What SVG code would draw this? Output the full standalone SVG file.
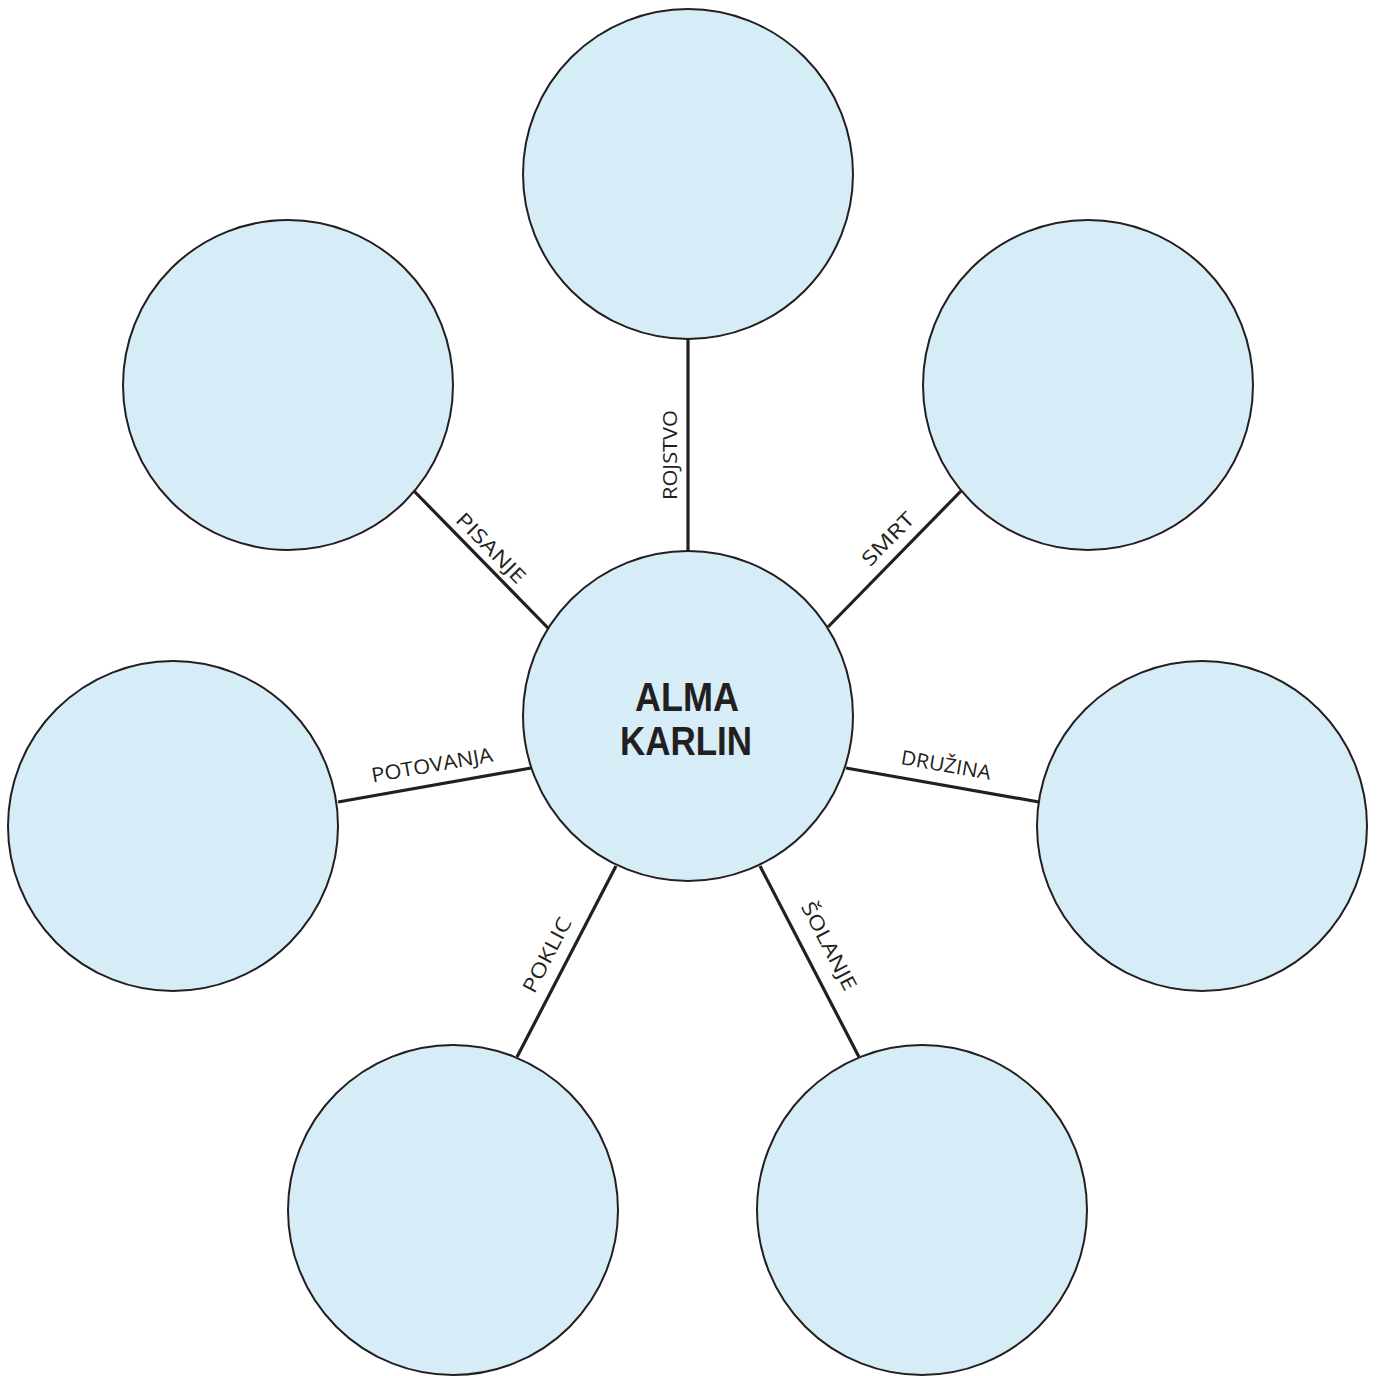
<svg xmlns="http://www.w3.org/2000/svg" width="1381" height="1376" viewBox="0 0 1381 1376">
<style>
.node{fill:#d6edf8;stroke:#231f20;stroke-width:2}
.conn{stroke:#231f20;stroke-width:3.2;fill:none}
.lbl{font-family:"Open Sans","Liberation Sans",sans-serif;font-size:20px;fill:#231f20;text-anchor:middle}
.title{font-family:"Liberation Sans",sans-serif;font-weight:bold;font-size:40px;fill:#231f20;text-anchor:middle}
</style>
<rect width="1381" height="1376" fill="#ffffff"/>
<g id="connectors">
<line class="conn" x1="688" y1="338" x2="688" y2="551"/>
<line class="conn" x1="414" y1="491" x2="548" y2="628"/>
<line class="conn" x1="961" y1="491" x2="828" y2="627"/>
<line class="conn" x1="338" y1="802" x2="531" y2="768"/>
<line class="conn" x1="846" y1="768" x2="1039" y2="802"/>
<line class="conn" x1="616" y1="866" x2="517" y2="1057"/>
<line class="conn" x1="760" y1="866" x2="859" y2="1057"/>
<text class="lbl" transform="translate(670,455) rotate(-90)" y="7" textLength="90" lengthAdjust="spacingAndGlyphs">ROJSTVO</text>
<text class="lbl" transform="translate(491,548) rotate(45.6)" y="7" textLength="90" lengthAdjust="spacingAndGlyphs">PISANJE</text>
<text class="lbl" transform="translate(888,539) rotate(-45.6)" y="7" textLength="66" lengthAdjust="spacingAndGlyphs">SMRT</text>
<text class="lbl" transform="translate(432,765) rotate(-10)" y="7" textLength="123" lengthAdjust="spacingAndGlyphs">POTOVANJA</text>
<text class="lbl" transform="translate(946,765) rotate(10)" y="7" textLength="91" lengthAdjust="spacingAndGlyphs">DRUŽINA</text>
<text class="lbl" transform="translate(547,955) rotate(-62.6)" y="7" textLength="82" lengthAdjust="spacingAndGlyphs">POKLIC</text>
<text class="lbl" transform="translate(829,946) rotate(62.6)" y="7" textLength="97" lengthAdjust="spacingAndGlyphs">ŠOLANJE</text>
</g>
<g id="node-center">
<circle class="node" cx="688" cy="716" r="165"/>
<text class="title" x="687" y="711" textLength="104" lengthAdjust="spacingAndGlyphs">ALMA</text>
<text class="title" x="686" y="755" textLength="132" lengthAdjust="spacingAndGlyphs">KARLIN</text>
</g>
<g id="node-rojstvo"><circle class="node" cx="688" cy="174" r="165"/></g>
<g id="node-pisanje"><circle class="node" cx="288" cy="385" r="165"/></g>
<g id="node-smrt"><circle class="node" cx="1088" cy="385" r="165"/></g>
<g id="node-potovanja"><circle class="node" cx="173" cy="826" r="165"/></g>
<g id="node-druzina"><circle class="node" cx="1202" cy="826" r="165"/></g>
<g id="node-poklic"><circle class="node" cx="453" cy="1210" r="165"/></g>
<g id="node-solanje"><circle class="node" cx="922" cy="1210" r="165"/></g>
</svg>
